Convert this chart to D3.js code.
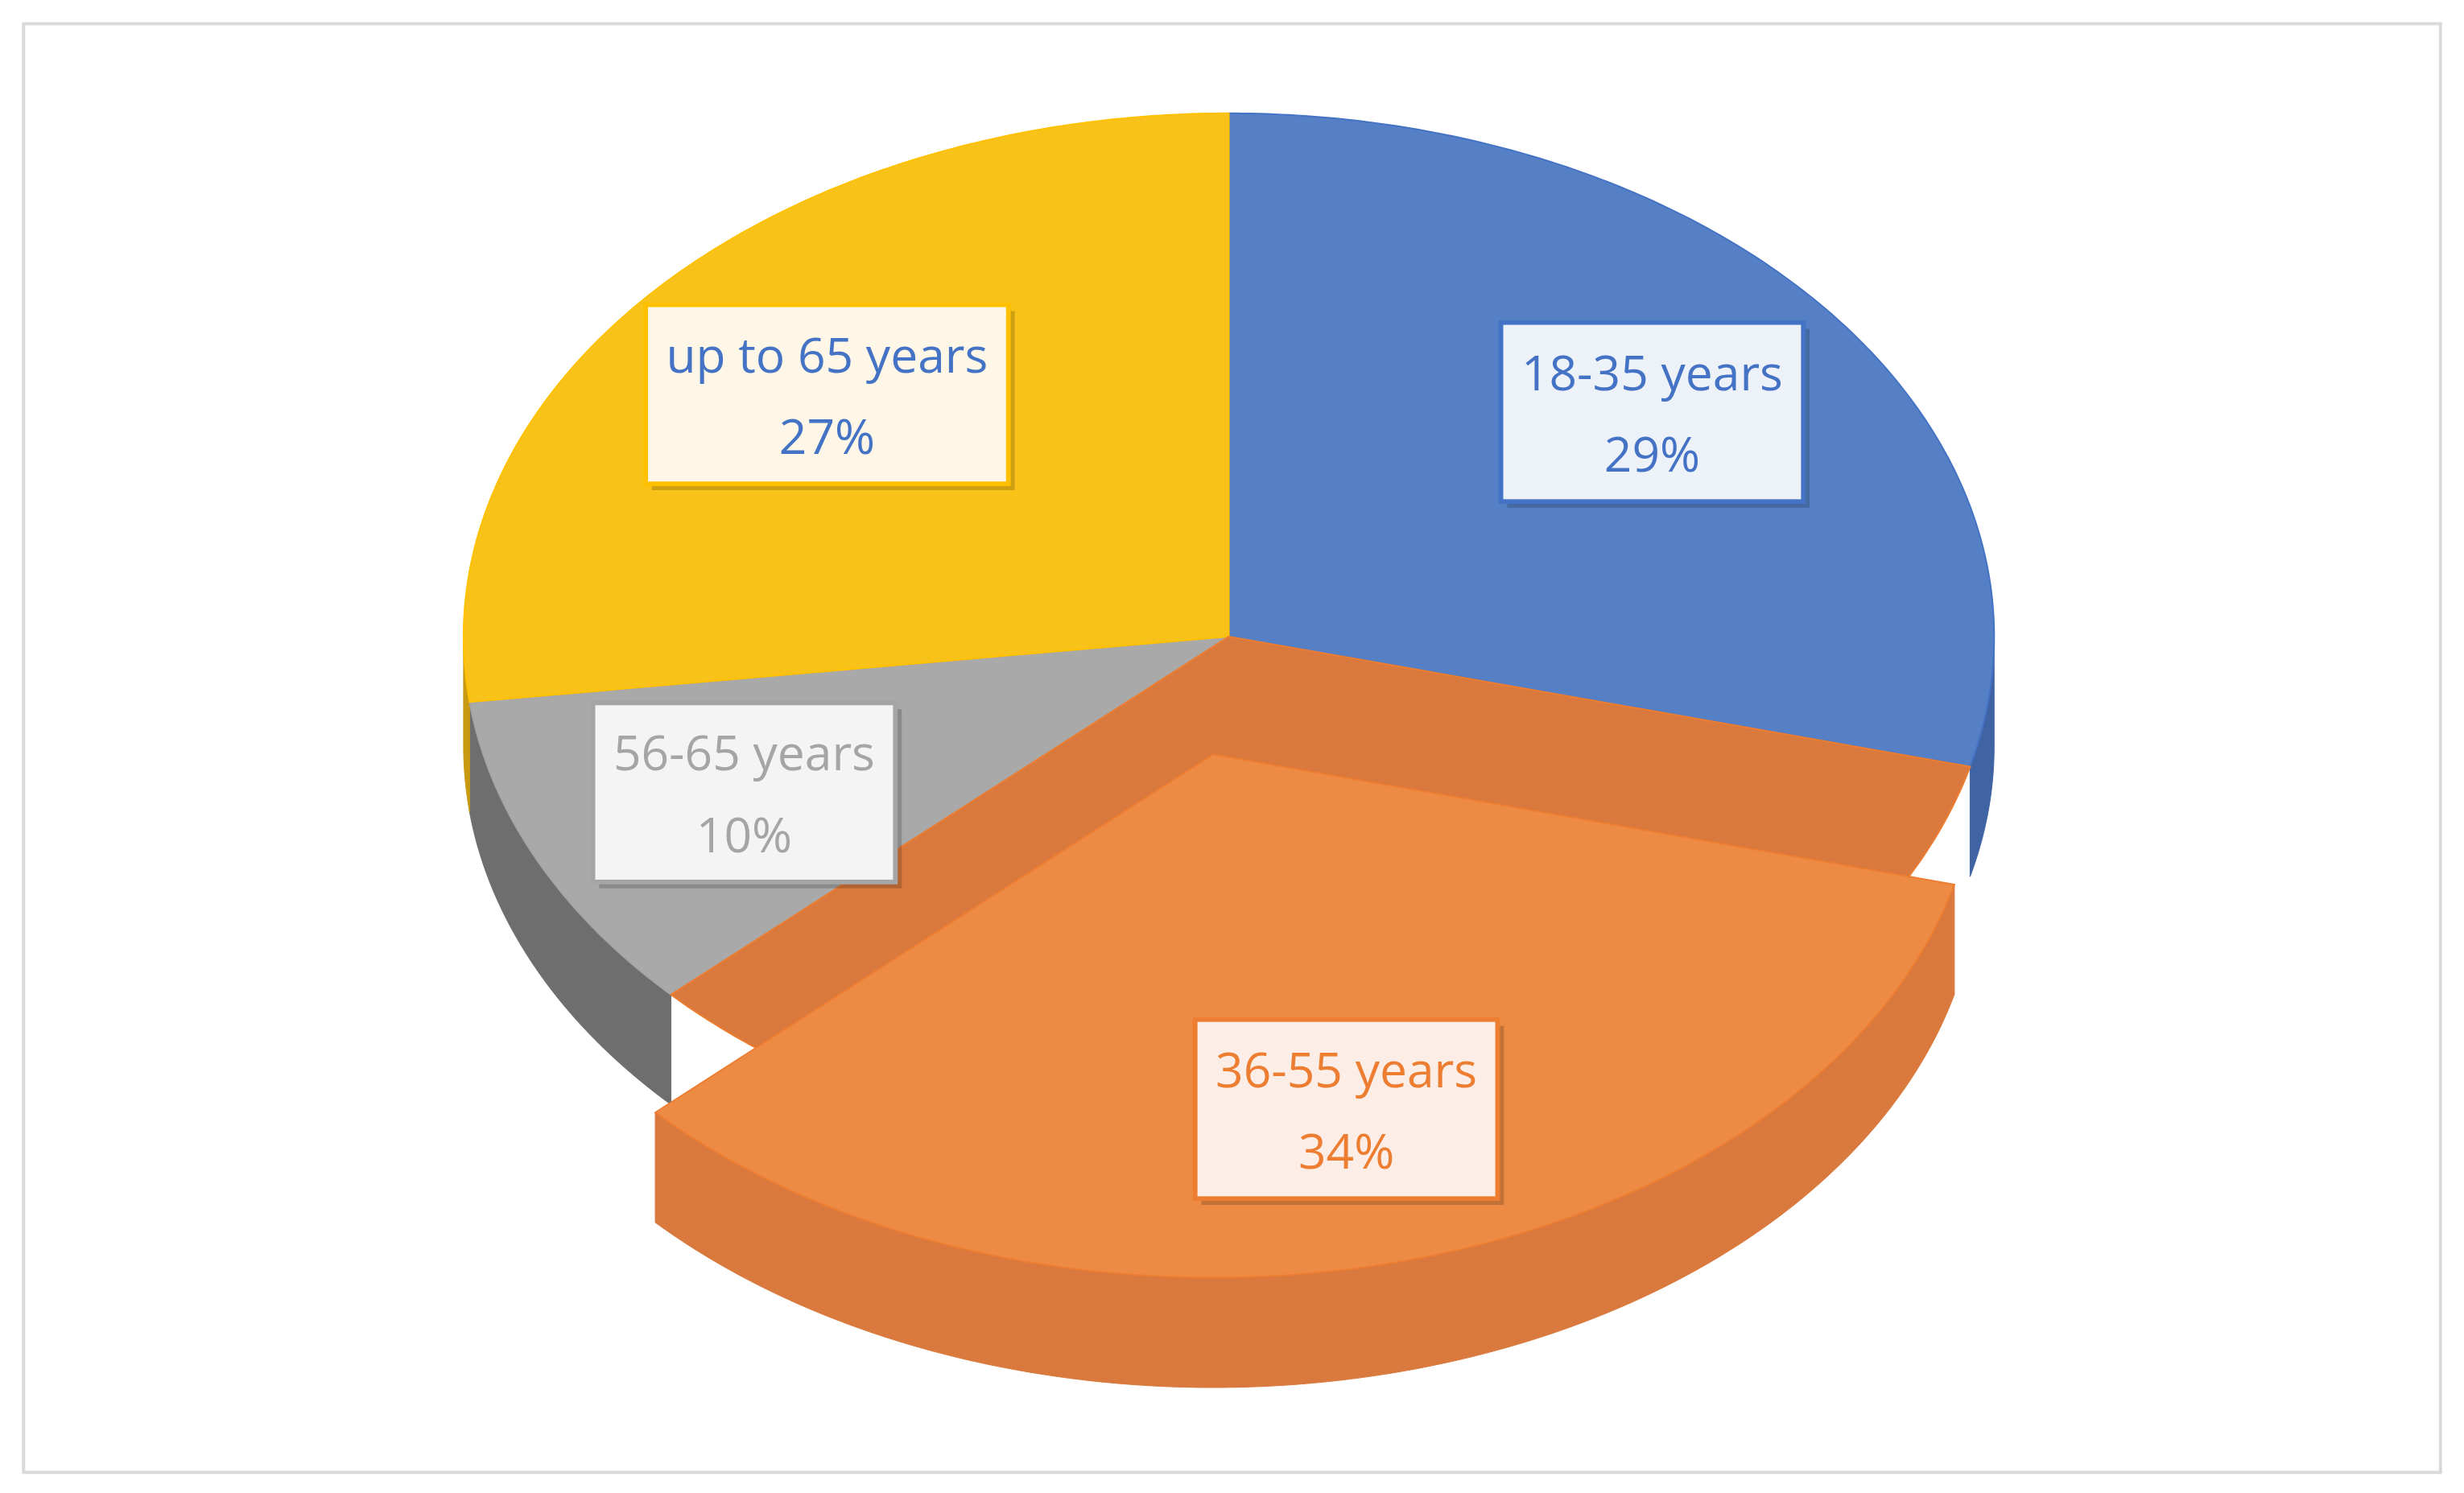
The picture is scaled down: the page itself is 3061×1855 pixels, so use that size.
<!DOCTYPE html>
<html><head><meta charset="utf-8">
<script src="https://cdn.jsdelivr.net/npm/d3@7"></script>
<style>body{margin:0;background:#fff}</style>
</head><body>
<div id="chart"></div>
<script>
const categories = ["18-35 years", "36-55 years", "56-65 years", "up to 65 years"];
const values = [29, 34, 10, 27];
const topColors = ["#5580C5", "#ED8B45", "#A9A9A9", "#F9C218"];
const sideColors = ["#3F63A3", "#D9793D", "#6E6E6E", "#C99A10"];
const lineColors = ["#4472C4", "#ED7D31", "#A5A5A5", "#FFC000"];
const textColors = ["#4472C4", "#ED7D31", "#A5A5A5", "#4472C4"];
const boxFills = ["#EDF2F9", "#FCEEE7", "#F4F4F4", "#FEF6E6"];
const exploded = [false, true, false, false];

const W = 1568, H = 950;
const cx = 782, cy = 405, rx = 487, ry = 333, depth = 70;
const off = [-10, 75];

const svg = d3.select("#chart").append("svg")
  .attr("width", 3061).attr("height", 1855)
  .attr("viewBox", `0 0 ${W} ${H}`);

svg.append("rect").attr("x", 15).attr("y", 15).attr("width", 1538).attr("height", 922)
  .attr("fill", "#fff").attr("stroke", "#D9D9D9").attr("stroke-width", 2);

const arcs = d3.pie().sort(null).value(d => d)(values);

function pt(a, r, dx, dy, z) {
  return [cx + dx + rx * r * Math.sin(a), cy + dy - ry * r * Math.cos(a) + z];
}
function arcPts(a0, a1, dx, dy, z) {
  const n = Math.max(2, Math.ceil((a1 - a0) / 0.01));
  return d3.range(n + 1).map(i => pt(a0 + (a1 - a0) * i / n, 1, dx, dy, z));
}
const line = d3.line();

function drawSide(d, i, dx, dy) {
  const a0 = Math.max(d.startAngle, Math.PI / 2), a1 = Math.min(d.endAngle, 3 * Math.PI / 2);
  if (a1 <= a0) return;
  const top = arcPts(a0, a1, dx, dy, 0);
  const bot = arcPts(a0, a1, dx, dy, depth).reverse();
  svg.append("path").attr("d", line(top.concat(bot)) + "Z")
    .attr("fill", sideColors[i]).attr("stroke", sideColors[i]).attr("stroke-width", 0.5);
}
function drawTop(d, i, dx, dy, fill) {
  const p = [pt(0, 0, dx, dy, 0)].concat(arcPts(d.startAngle, d.endAngle, dx, dy, 0));
  svg.append("path").attr("d", line(p) + "Z")
    .attr("fill", fill).attr("stroke", lineColors[i]).attr("stroke-width", 1);
}

// back slices
arcs.forEach((d, i) => { if (!exploded[i]) drawSide(d, i, 0, 0); });
arcs.forEach((d, i) => { if (!exploded[i]) drawTop(d, i, 0, 0, topColors[i]); });
// exploded slice: shadow in place, then pulled out
arcs.forEach((d, i) => {
  if (!exploded[i]) return;
  drawTop(d, i, 0, 0, sideColors[i]);
  drawSide(d, i, off[0], off[1]);
  drawTop(d, i, off[0], off[1], topColors[i]);
});

// labels
const f = 0.7;
arcs.forEach((d, i) => {
  const mid = (d.startAngle + d.endAngle) / 2;
  const [dx, dy] = exploded[i] ? off : [0, 0];
  const [x, y] = pt(mid, f, dx, dy, 0);
  const g = svg.append("g").attr("transform", `translate(${x},${y})`);
  const pct = Math.round(d.value / d3.sum(values) * 100) + "%";
  const t = g.append("text").attr("text-anchor", "middle")
    .attr("font-family", "Open Sans, sans-serif").attr("font-size", 31)
    .attr("fill", textColors[i]);
  t.append("tspan").attr("x", 0).attr("y", -14).text(categories[i]);
  t.append("tspan").attr("x", 0).attr("y", 38).text(pct);
  const bb = t.node().getBBox();
  const w = bb.width + 26, h = 114;
  g.insert("rect", "text").attr("x", -w / 2 + 4).attr("y", -h / 2 + 4).attr("width", w).attr("height", h)
    .attr("fill", "rgba(0,0,0,0.18)");
  g.insert("rect", "text").attr("x", -w / 2).attr("y", -h / 2).attr("width", w).attr("height", h)
    .attr("fill", boxFills[i]).attr("stroke", lineColors[i]).attr("stroke-width", 3);
});
</script>
</body></html>
